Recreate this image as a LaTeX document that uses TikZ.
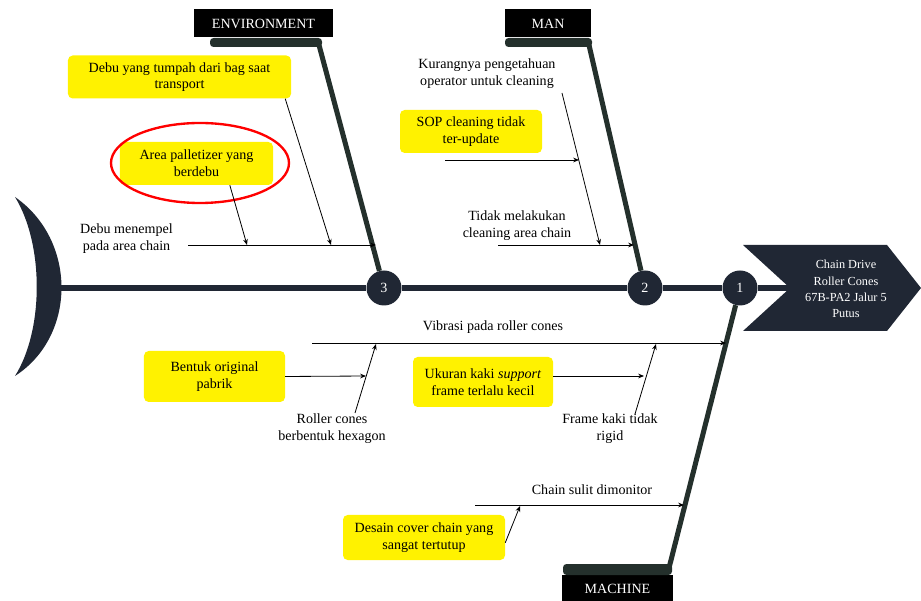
\documentclass[tikz,border=0pt]{standalone}
\usepackage{fontspec}
\setmainfont{Liberation Serif}
\usepackage{xcolor}
\usepackage{tikz}
\usetikzlibrary{arrows.meta,positioning}
\definecolor{fishnavy}{RGB}{32,39,52}
\definecolor{bonedark}{RGB}{36,48,44}

\begin{document}
\begin{tikzpicture}[x=0.03cm, y=-0.03cm,
  font=\fontsize{12}{14.2}\selectfont,
  ybox/.style={fill=yellow, rounded corners=4pt, align=center, inner sep=2pt},
  txt/.style={align=center, inner sep=1pt},
  catlabel/.style={fill=black, text=white, minimum height=0.84cm, inner sep=0pt},
  num/.style={circle, fill=fishnavy, text=white, minimum size=1.05cm, inner sep=0pt},
  spine/.style={draw=fishnavy, line width=5pt},
  bone/.style={draw=bonedark, line width=4.3pt},
  arr/.style={-{Stealth[length=5pt,width=4pt]}, line width=0.7pt}
]
  \useasboundingbox (0,0) rectangle (921,601);

  % tail and head
  \fill[fishnavy] (15,197) .. controls (77,240) and (77,336) .. (15,376)
                  .. controls (44,330) and (44,244) .. cycle;
  \fill[fishnavy] (743,245) -- (887,245) -- (921,288) -- (887,331) -- (743,331) -- (790,288) -- cycle;
  \node[txt, text=white, font=\fontsize{10.5}{14}\selectfont] (head) at (846,289)
    {Chain Drive\\Roller Cones\\67B-PA2 Jalur 5\\Putus};

  % category labels
  \node[catlabel, minimum width=4.17cm] (env) at (263.5,23.5) {ENVIRONMENT};
  \node[catlabel, minimum width=2.58cm] (man) at (548,23.5) {MAN};
  \node[catlabel, minimum width=3.33cm] (mac) at (617.5,589) {MACHINE};
  \fill[bonedark, rounded corners=3pt] (210,38) rectangle (322,47);
  \fill[bonedark, rounded corners=3pt] (505,38) rectangle (592,47);
  \fill[bonedark, rounded corners=3pt] (563,564) rectangle (672,575);

  % spine
  \coordinate (tail) at (60,288);
  \coordinate (notch) at (790,288);
  \node[num] (c3) at (384,288) {3};
  \node[num] (c2) at (645,288) {2};
  \node[num] (c1) at (740,288) {1};
  \draw[spine] (tail) -- (c3) -- (c2) -- (c1) -- (notch);

  \coordinate (envtop) at (319,45);
  \coordinate (mantop) at (589,45);
  \coordinate (macbot) at (669,568);
  \draw[bone] (envtop) -- (c3);
  \draw[bone] (mantop) -- (c2);
  \draw[bone] (macbot) -- (c1);

  % environment
  \node[ybox, minimum width=6.69cm, minimum height=1.29cm] (bag) at (179.5,77)
    {Debu yang tumpah dari bag saat\\transport};
  \node[ybox, minimum width=4.59cm, minimum height=1.29cm] (pal) at (196.5,163.5)
    {Area palletizer yang\\berdebu};
  \draw[red, line width=2pt] (200,163) ellipse [x radius=2.67cm, y radius=1.2cm];
  \node[txt] (dm) at (126.5,238.5) {Debu menempel\\pada area chain};
  \coordinate (dm0) at (188,245);
  \coordinate (dmtip) at (376,245);
  \coordinate (bagtip) at (331,245);
  \coordinate (paltip) at (247,245);
  \draw[arr] (dm0) -- (dmtip);
  \draw[arr] ([xshift=-0.18cm]bag.south east) -- (bagtip);
  \draw[arr] ([xshift=1cm]pal.south) -- (paltip);

  % man
  \node[txt] (kur) at (487,73.5) {Kurangnya pengetahuan\\operator untuk cleaning};
  \node[ybox, minimum width=4.26cm, minimum height=1.29cm] (sop) at (471,131.5)
    {SOP cleaning tidak\\ter-update};
  \node[txt] (tid) at (517,225.5) {Tidak melakukan\\cleaning area chain};
  \coordinate (kur0) at (562,93);
  \coordinate (kurtip) at (600,245);
  \coordinate (sop0) at (445,160);
  \coordinate (soptip) at (579,160);
  \coordinate (tid0) at (498,245);
  \coordinate (tidtip) at (634,245);
  \draw[arr] (kur0) -- (kurtip);
  \draw[arr] (sop0) -- (soptip);
  \draw[arr] (tid0) -- (tidtip);

  % machine
  \node[txt] (vib) at (493,327) {Vibrasi pada roller cones};
  \node[ybox, minimum width=4.23cm, minimum height=1.53cm] (bent) at (214.5,376.5)
    {Bentuk original\\pabrik};
  \node[txt] (rol) at (332,428.5) {Roller cones\\berbentuk hexagon};
  \node[ybox, minimum width=4.2cm, minimum height=1.5cm] (uk) at (483,382)
    {Ukuran kaki \textit{support}\\frame terlalu kecil};
  \node[txt] (frm) at (610,428.5) {Frame kaki tidak\\rigid};
  \node[txt] (csd) at (592,490) {Chain sulit dimonitor};
  \node[ybox, minimum width=4.86cm, minimum height=1.35cm] (des) at (424,537.5)
    {Desain cover chain yang\\sangat tertutup};
  \coordinate (vib0) at (312,343);
  \coordinate (vibtip) at (726,343);
  \coordinate (bentip) at (366,376);
  \coordinate (rol0) at (355,413);
  \coordinate (roltip) at (376,344);
  \coordinate (uktip) at (644,376);
  \coordinate (frm0) at (635,414);
  \coordinate (frmtip) at (656,344);
  \coordinate (csd0) at (475,505);
  \coordinate (csdtip) at (684,505);
  \coordinate (destip) at (520,506);
  \draw[arr] (vib0) -- (vibtip);
  \draw[arr] (bent.east) -- (bentip);
  \draw[arr] (rol0) -- (roltip);
  \draw[arr] ([yshift=0.18cm]uk.east) -- (uktip);
  \draw[arr] (frm0) -- (frmtip);
  \draw[arr] (csd0) -- (csdtip);
  \draw[arr] ([yshift=-0.16cm]des.east) -- (destip);
\end{tikzpicture}
\end{document}
